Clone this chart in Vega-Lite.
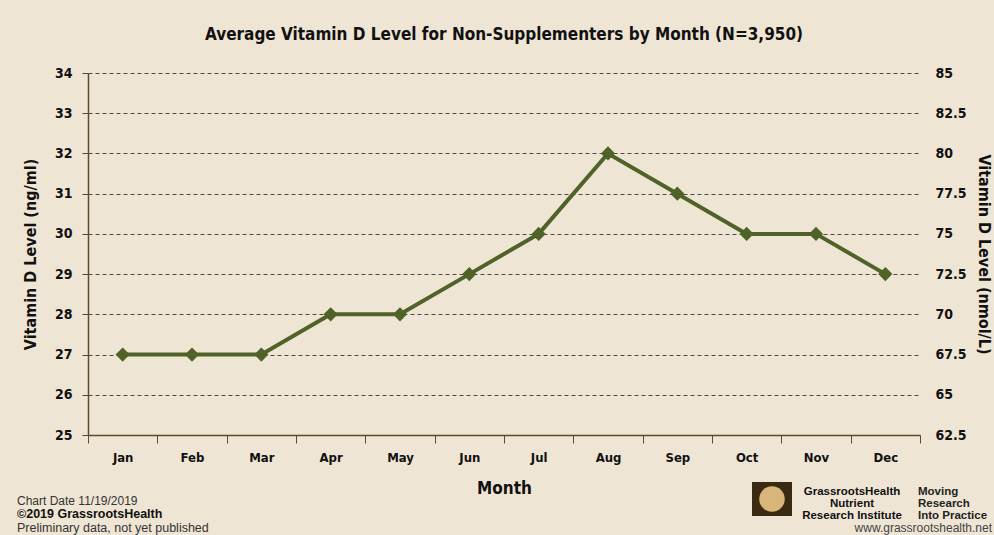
{
  "$schema": "https://vega.github.io/schema/vega-lite/v6.json",
  "width": 832,
  "height": 362,
  "autosize": {"type": "none"},
  "padding": {"left": 88, "top": 73, "right": 74, "bottom": 100},
  "background": "#efe5d4",
  "title": {
    "text": "Average Vitamin D Level for Non-Supplementers by Month (N=3,950)",
    "font": "DejaVu Sans Condensed",
    "fontWeight": "bold",
    "fontSize": 17,
    "color": "#111111",
    "anchor": "middle",
    "offset": 22
  },
  "config": {
    "view": {"stroke": null},
    "axis": {
      "labelFont": "DejaVu Sans Condensed",
      "titleFont": "DejaVu Sans Condensed",
      "labelFontWeight": "bold",
      "titleFontWeight": "bold",
      "labelColor": "#111111",
      "titleColor": "#111111"
    }
  },
  "data": {
    "values": [
      {"Month": "Jan", "ngml": 27, "nmol": 67.5},
      {"Month": "Feb", "ngml": 27, "nmol": 67.5},
      {"Month": "Mar", "ngml": 27, "nmol": 67.5},
      {"Month": "Apr", "ngml": 28, "nmol": 70},
      {"Month": "May", "ngml": 28, "nmol": 70},
      {"Month": "Jun", "ngml": 29, "nmol": 72.5},
      {"Month": "Jul", "ngml": 30, "nmol": 75},
      {"Month": "Aug", "ngml": 32, "nmol": 80},
      {"Month": "Sep", "ngml": 31, "nmol": 77.5},
      {"Month": "Oct", "ngml": 30, "nmol": 75},
      {"Month": "Nov", "ngml": 30, "nmol": 75},
      {"Month": "Dec", "ngml": 29, "nmol": 72.5}
    ]
  },
  "layer": [
    {
      "mark": {
        "type": "line",
        "color": "#4f6228",
        "strokeWidth": 4,
        "point": {"shape": "diamond", "size": 200, "filled": true, "color": "#4f6228", "opacity": 1}
      },
      "encoding": {
        "x": {
          "field": "Month",
          "type": "nominal",
          "sort": null,
          "bandPosition": 0.5,
          "scale": {"type": "band", "paddingInner": 0, "paddingOuter": 0},
          "axis": {
            "title": "Month",
            "titleFontSize": 17,
            "titlePadding": 16,
            "labelFontSize": 13,
            "labelAngle": 0,
            "labelPadding": 8,
            "tickBand": "extent",
            "tickSize": 8,
            "tickColor": "#5b4a2e",
            "domainColor": "#5b4a2e",
            "domainWidth": 1.5,
            "grid": false
          }
        },
        "y": {
          "field": "ngml",
          "type": "quantitative",
          "scale": {"domain": [25, 34], "nice": false, "zero": false},
          "axis": {
            "title": "Vitamin D Level (ng/ml)",
            "titleFontSize": 16,
            "titlePadding": 16,
            "labelFontSize": 14,
            "labelPadding": 10,
            "values": [25, 26, 27, 28, 29, 30, 31, 32, 33, 34],
            "grid": true,
            "gridColor": "#4a4a4a",
            "gridDash": [4, 3],
            "gridWidth": 1,
            "tickSize": 6,
            "tickColor": "#4a4a4a",
            "domainColor": "#5b4a2e",
            "domainWidth": 1.5
          }
        }
      }
    },
    {
      "mark": {"type": "point", "opacity": 0},
      "encoding": {
        "x": {"field": "Month", "type": "nominal", "sort": null, "bandPosition": 0.5},
        "y": {
          "field": "nmol",
          "type": "quantitative",
          "scale": {"domain": [62.5, 85], "nice": false, "zero": false},
          "axis": {
            "orient": "right",
            "title": "Vitamin D Level (nmol/L)",
            "titleFontSize": 16,
            "titlePadding": 9,
            "labelFontSize": 14,
            "labelPadding": 15,
            "format": ".1~f",
            "values": [62.5, 65, 67.5, 70, 72.5, 75, 77.5, 80, 82.5, 85],
            "grid": false,
            "ticks": false,
            "domain": false
          }
        }
      }
    },
    {
      "data": {"values": [{}]},
      "mark": {"type": "text", "text": "Chart Date  11/19/2019", "x": -71, "y": 428, "align": "left", "font": "Liberation Sans", "fontSize": 12, "color": "#333333"}
    },
    {
      "data": {"values": [{}]},
      "mark": {"type": "text", "text": "©2019 GrassrootsHealth", "x": -71, "y": 441, "align": "left", "font": "Liberation Sans", "fontSize": 12.5, "fontWeight": "bold", "color": "#111111"}
    },
    {
      "data": {"values": [{}]},
      "mark": {"type": "text", "text": "Preliminary data, not yet published", "x": -71, "y": 455, "align": "left", "font": "Liberation Sans", "fontSize": 12.5, "color": "#333333"}
    },
    {
      "data": {"values": [{}]},
      "mark": {"type": "rect", "x": 664, "x2": 704, "y": 409, "y2": 443, "fill": "#3b2a12"}
    },
    {
      "data": {"values": [{}]},
      "mark": {"type": "point", "x": 684, "y": 426, "size": 650, "shape": "circle", "filled": true, "color": "#d8b57a", "opacity": 1}
    },
    {
      "data": {"values": [{}]},
      "mark": {"type": "text", "text": ["GrassrootsHealth", "Nutrient", "Research Institute"], "x": 764, "y": 419, "align": "center", "lineHeight": 12, "font": "Liberation Sans", "fontSize": 11.5, "fontWeight": "bold", "color": "#111111"}
    },
    {
      "data": {"values": [{}]},
      "mark": {"type": "rule", "x": 820, "y": 409, "y2": 445, "color": "#333333", "strokeWidth": 1},
      "encoding": {}
    },
    {
      "data": {"values": [{}]},
      "mark": {"type": "text", "text": ["Moving", "Research", "Into Practice"], "x": 830, "y": 419, "align": "left", "lineHeight": 12, "font": "Liberation Sans", "fontSize": 11.5, "fontWeight": "bold", "color": "#222222"}
    },
    {
      "data": {"values": [{}]},
      "mark": {"type": "text", "text": "www.grassrootshealth.net", "x": 904, "y": 455, "align": "right", "font": "Liberation Sans", "fontSize": 12, "color": "#444444"}
    }
  ],
  "resolve": {"scale": {"y": "independent"}}
}
